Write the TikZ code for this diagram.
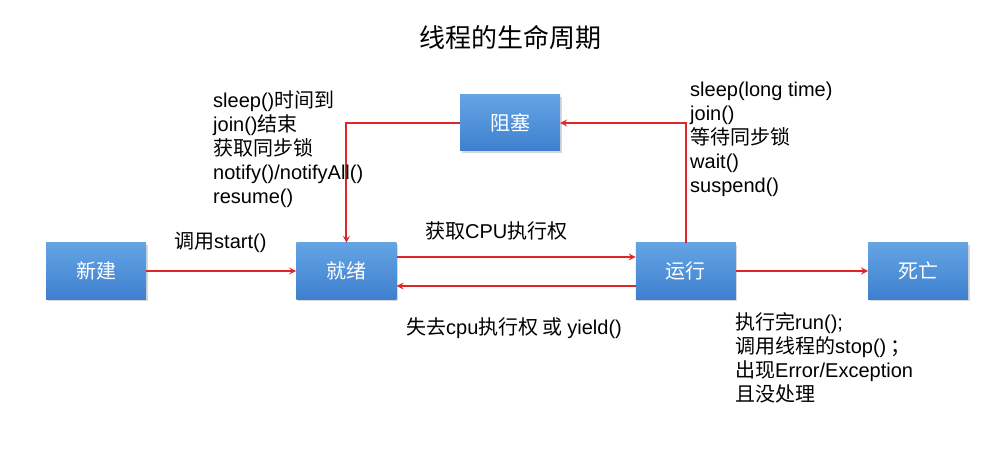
\documentclass[tikz,border=0pt]{standalone}
\usepackage{fontspec}
\setmainfont{Liberation Sans}
\newfontfamily\cjk{Noto Sans CJK SC}
\newcommand{\zh}[1]{{\cjk #1}}
\usetikzlibrary{shapes,arrows,positioning,shadows}
\definecolor{boxtop}{RGB}{100,164,228}
\definecolor{boxbottom}{RGB}{62,128,206}
\definecolor{flowred}{RGB}{222,38,38}

\begin{document}
\begin{tikzpicture}[
    x=1pt, y=-1pt,
    every node/.style={align=left},
    state/.style={rectangle, minimum width=100pt, minimum height=56pt, top color=boxtop, bottom color=boxbottom, drop shadow={opacity=0.3, shadow xshift=1.5pt, shadow yshift=-2pt}, text=white, font=\fontsize{20}{24}\selectfont\cjk},
    note/.style={inner sep=0pt, anchor=west, font=\fontsize{20}{24}\selectfont},
    arrow/.style={line width=2pt, draw=flowred, ->, >=stealth}
]
\fill[white] (0,0) rectangle (1005,476);
\useasboundingbox (0,0) rectangle (1005,476);

\node[font=\fontsize{26}{30}\selectfont\cjk] (title) at (510,38) {线程的生命周期};

% Thread states
\node[state] (new_state) at (96,271) {新建};
\node[state, right=150pt of new_state] (ready) {就绪};
\node[state, right=239pt of ready] (running) {运行};
\node[state, right=132pt of running] (dead) {死亡};
\node[state] (blocked) at (510,123) {阻塞};

% State transitions
\draw[arrow] (new_state) -- (ready);
\draw[arrow] ([yshift=14pt]ready.east) -- ([yshift=14pt]running.west);
\draw[arrow] ([yshift=-15pt]running.west) -- ([yshift=-15pt]ready.east);
\draw[arrow] (running) -- (dead);
\draw[arrow] (running.north) |- (blocked.east);
\draw[arrow] (blocked.west) -| (ready.north);

% Transition notes
\node[note] (start_note) at (174,242) {\zh{调用}start()};
\node[note] (get_cpu) at (425,231) {\zh{获取}CPU\zh{执行权}};
\node[note] (lose_cpu) at (406,328) {\zh{失去}cpu\zh{执行权 或 }yield()};
\node[note] (wake_note) at (213,149.5) {sleep()\zh{时间到}\\join()\zh{结束}\\\zh{获取同步锁}\\notify()/notifyAll()\\resume()};
\node[note] (block_note) at (690,139) {sleep(long time)\\join()\\\zh{等待同步锁}\\wait()\\suspend()};
\node[note] (dead_note) at (735,358) {\zh{执行完}run();\\\zh{调用线程的}stop()\zh{ ；}\\\zh{出现}Error/Exception\\\zh{且没处理}};

\end{tikzpicture}
\end{document}
